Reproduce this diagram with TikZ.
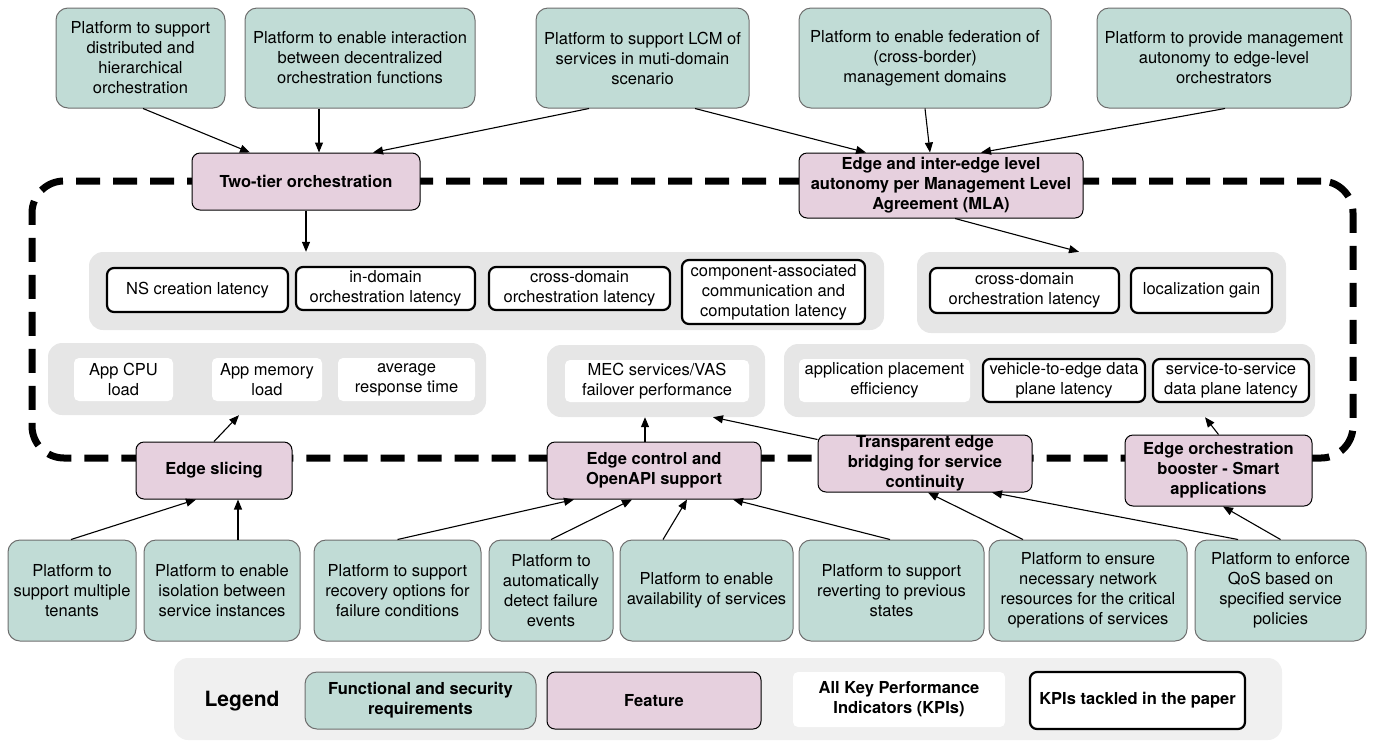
\documentclass[tikz,border=0pt]{standalone}
\usepackage{fontspec}
\setmainfont{TeX Gyre Heros}
\usetikzlibrary{arrows.meta,calc}
\definecolor{reqfill}{HTML}{C1DCD6}
\definecolor{reqdraw}{HTML}{6E6E6E}
\definecolor{featfill}{HTML}{E6D0DE}
\definecolor{grpfill}{HTML}{E6E6E6}
\definecolor{legfill}{HTML}{F0F0F0}
\tikzset{
 base/.style={align=center, font=\fontsize{16.5}{20}\selectfont, inner sep=2pt},
 req/.style={base, draw=reqdraw, fill=reqfill, rounded corners=12pt, line width=1pt},
 feat/.style={base, draw=black, fill=featfill, rounded corners=8pt, line width=1pt, font=\bfseries\fontsize{16.5}{20}\selectfont},
 grp/.style={fill=grpfill, rounded corners=14pt, inner sep=0pt},
 kpi/.style={base, fill=white, rounded corners=5pt, inner xsep=1pt},
 kpit/.style={base, fill=white, draw=black, line width=2.2pt, rounded corners=7pt, inner xsep=1pt},
 conn/.style={-{Triangle[length=10pt,width=8pt]}, line width=1.1pt},
 frame/.style={draw, line width=7pt, dash pattern=on 24pt off 13pt, rounded corners=32pt, inner sep=0pt},
 wh/.style 2 args={minimum width=#1pt, minimum height=#2pt},
}
\begin{document}
\begin{tikzpicture}[x=1pt,y=-1pt]
\useasboundingbox (0,0) rectangle (1375,740);

% frame
\node[frame, wh={1321}{277}] (frame) at (692.5,319.5) {};

% groups
\node[grp, wh={795}{78}] (G1) at (486.5,291) {};
\node[grp, wh={369}{81}] (G2) at (1101.5,292.5) {};
\node[grp, wh={438}{72}] (G3) at (267,379) {};
\node[grp, wh={218}{72}] (G4) at (656,381) {};
\node[grp, wh={531}{73}] (G5) at (1049.5,380.5) {};

% KPIs
\node[kpit, wh={181}{44}] (K1) at (197.5,290) {NS creation latency};
\node[kpit, wh={179}{43}] (K2) at (385.5,288.5) {in-domain\\orchestration latency};
\node[kpit, wh={181}{43}] (K3) at (579.5,288.5) {cross-domain\\orchestration latency};
\node[kpit, wh={183}{64}] (K4) at (773.5,292) {component-associated\\communication and\\computation latency};
\node[kpit, wh={189}{45}] (K5) at (1024.5,290.5) {cross-domain\\orchestration latency};
\node[kpit, wh={141}{45}] (K6) at (1201.5,290.5) {localization gain};
\node[kpit, wh={162}{43}] (K7) at (1064,380.5) {vehicle-to-edge data\\plane latency};
\node[kpit, wh={156}{43}] (K8) at (1231,380.5) {service-to-service\\data plane latency};

\node[kpi, wh={99}{43}] (W1) at (123.5,379.5) {App CPU\\load};
\node[kpi, wh={110}{43}] (W2) at (267,379.5) {App memory\\load};
\node[kpi, wh={137}{43}] (W3) at (406.5,379.5) {average\\response time};
\node[kpi, wh={184}{42}] (W4) at (657,381) {MEC services/VAS\\failover performance};
\node[kpi, wh={171}{43}] (W5) at (884.5,380.5) {application placement\\efficiency};

% top requirements
\node[req, wh={169}{100}] (T1) at (140.5,58) {Platform to support\\distributed and\\hierarchical\\orchestration};
\node[req, wh={230}{100}] (T2) at (360,58) {Platform to enable interaction\\between decentralized\\orchestration functions};
\node[req, wh={213}{100}] (T3) at (642.5,58) {Platform to support LCM of\\services in muti-domain\\scenario};
\node[req, wh={252}{100}] (T4) at (925,58) {Platform to enable federation of\\(cross-border)\\management domains};
\node[req, wh={254}{100}] (T5) at (1224,58) {Platform to provide management\\autonomy to edge-level\\orchestrators};

% features
\node[feat, wh={228}{57}] (F1) at (306,181.5) {Two-tier orchestration};
\node[feat, wh={284}{65}] (F2) at (941,185.5) {Edge and inter-edge level\\autonomy per Management Level\\Agreement (MLA)};
\node[feat, wh={156}{57}] (F3) at (214,470.5) {Edge slicing};
\node[feat, wh={214}{57}] (F4) at (654,470.5) {Edge control and\\OpenAPI support};
\node[feat, wh={214}{57}, inner ysep=0pt] (F5) at (925,463.5) {Transparent edge\\bridging for service\\continuity};
\node[feat, wh={187}{71}] (F6) at (1218.5,470.5) {Edge orchestration\\booster - Smart\\applications};

% bottom requirements
\node[req, wh={128}{101}] (B1) at (72,590.5) {Platform to\\support multiple\\tenants};
\node[req, wh={156}{101}] (B2) at (222,590.5) {Platform to enable\\isolation between\\service instances};
\node[req, wh={167}{101}] (B3) at (397.5,590.5) {Platform to support\\recovery options for\\failure conditions};
\node[req, wh={124}{101}] (B4) at (551,590.5) {Platform to\\automatically\\detect failure\\events};
\node[req, wh={173}{101}] (B5) at (706.5,590.5) {Platform to enable\\availability of services};
\node[req, wh={185}{101}] (B6) at (891.5,590.5) {Platform to support\\reverting to previous\\states};
\node[req, wh={198}{101}] (B7) at (1088,590.5) {Platform to ensure\\necessary network\\resources for the critical\\operations of services};
\node[req, wh={171}{101}] (B8) at (1280.5,590.5) {Platform to enforce\\QoS based on\\specified service\\policies};

% legend
\node[fill=legfill, rounded corners=14pt, wh={1108}{82}, inner sep=0pt] (LG) at (728,699) {};
\node[font=\bfseries\fontsize{21}{24}\selectfont] (LT) at (242,701) {Legend};
\node[req, wh={231}{57}, font=\bfseries\fontsize{16.5}{20}\selectfont] (L1) at (420.5,700.5) {Functional and security\\requirements};
\node[feat, wh={214}{57}] (L2) at (654,700.5) {Feature};
\node[kpi, wh={212}{55}, font=\bfseries\fontsize{16.5}{20}\selectfont] (L3) at (899,699.5) {All Key Performance\\Indicators (KPIs)};
\node[kpit, wh={215}{57}, font=\bfseries\fontsize{16.5}{20}\selectfont] (L4) at (1137.5,700.5) {KPIs tackled in the paper};

% connectors top
\draw[conn] ($(T1.south)+(2.5,0)$) -- ($(F1.north)+(-56,0)$);
\draw[conn] ($(T2.south)+(-41,0)$) -- ($(F1.north)+(13,0)$);
\draw[conn] ($(T3.south)+(-53.5,0)$) -- ($(F1.north)+(67,0)$);
\draw[conn] ($(T3.south)+(52.5,0)$) -- ($(F2.north)+(-75,0)$);
\draw[conn] ($(T4.south)+(0,0)$) -- ($(F2.north)+(-11,0)$);
\draw[conn] ($(T5.south)+(1,0)$) -- ($(F2.north)+(40,0)$);
\draw[conn] (F1.south) -- ($(G1.north)+(-180.5,0)$);
\draw[conn] ($(F2.south)+(14,0)$) -- ($(G2.north)+(-22.5,0)$);
% connectors features to groups
\draw[conn] (F3.north) -- ($(G3.south)+(-28,0)$);
\draw[conn] ($(F4.north)+(-9,0)$) -- ($(G4.south)+(-11,0)$);
\draw[conn] ($(F5.north west)+(0,5)$) -- ($(G4.south)+(57,0)$);
\draw[conn] (F6.north) -- ($(G5.south)+(155.5,0)$);
% connectors bottom
\draw[conn] ($(B1.north)+(-1,0)$) -- ($(F3.south)+(-18,0)$);
\draw[conn] ($(B2.north)+(16,0)$) -- ($(F3.south)+(24,0)$);
\draw[conn] (B3.north) -- ($(F4.south)+(-80,0)$);
\draw[conn] (B4.north) -- ($(F4.south)+(-22,0)$);
\draw[conn] ($(B5.north)+(-43.5,0)$) -- ($(F4.south)+(33,0)$);
\draw[conn] ($(B6.north)+(-1.5,0)$) -- ($(F4.south)+(79,0)$);
\draw[conn] ($(B7.north)+(-65,0)$) -- ($(F5.south)+(3,0)$);
\draw[conn] ($(B8.north)+(-42.5,0)$) -- ($(F5.south)+(67,0)$);
\draw[conn] (B8.north) -- ($(F6.south)+(4.5,0)$);
\end{tikzpicture}
\end{document}
